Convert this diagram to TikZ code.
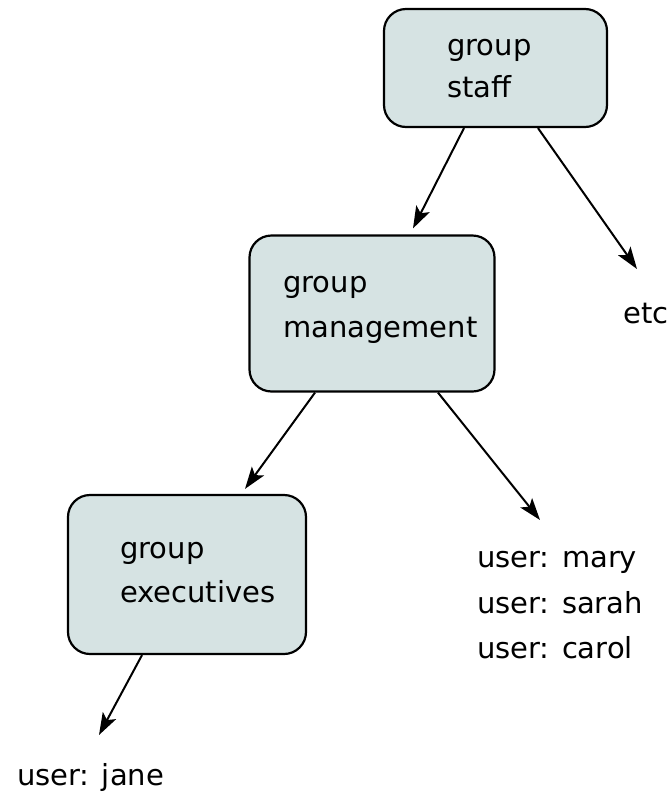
\documentclass[tikz,border=0pt]{standalone}
\usepackage{fontspec}
\setmainfont{DejaVu Sans}
\usetikzlibrary{arrows.meta}

\begin{document}
\begin{tikzpicture}[x=1pt,y=-1pt,
    grp/.style={draw=black,line width=2.2pt,fill=kBox,rounded corners=22pt},
    txt/.style={anchor=base west,inner sep=0pt,font=\fontsize{29}{35}\selectfont},
    arr/.style={draw=black,line width=2pt,-{Stealth[length=22pt,width=15pt,inset=5pt]}}]
  \definecolor{kBox}{RGB}{214,227,227}

  \useasboundingbox (0,0) rectangle (669,793);

  % group boxes
  \node[grp,minimum width=223pt,minimum height=118pt] (staff) at (495.5,68) {};
  \node[grp,minimum width=245pt,minimum height=156pt] (mgmt) at (372,313.5) {};
  \node[grp,minimum width=238pt,minimum height=159pt] (exec) at (187,574.5) {};

  % box texts
  \node[txt] (staffA) at (447,55) {group};
  \node[txt] (staffB) at (447,97) {staff};
  \node[txt] (mgmtA) at (283,292) {group};
  \node[txt] (mgmtB) at (283,337) {management};
  \node[txt] (execA) at (120,558) {group};
  \node[txt] (execB) at (120,602) {executives};

  % members
  \node[txt] (etc) at (623,323) {etc};
  \foreach \n/\y in {mary/567,sarah/613,carol/658}
    \node[txt] (\n) at (477,\y) {user: \n};
  \node[txt] (jane) at (17,785) {user: jane};

  \coordinate (etcTip) at (637,269);
  \coordinate (userTip) at (540,520);
  \coordinate (janeTip) at (99,735);

  % arrows
  \draw[arr] ([xshift=-31.5pt]staff.south) -- ([xshift=41pt,yshift=6pt]mgmt.north);
  \draw[arr] ([xshift=42.5pt]staff.south) -- (etcTip);
  \draw[arr] ([xshift=-57pt]mgmt.south) -- ([xshift=58pt,yshift=5pt]exec.north);
  \draw[arr] ([xshift=66pt]mgmt.south) -- (userTip);
  \draw[arr] ([xshift=-45pt]exec.south) -- (janeTip);
\end{tikzpicture}
\end{document}
